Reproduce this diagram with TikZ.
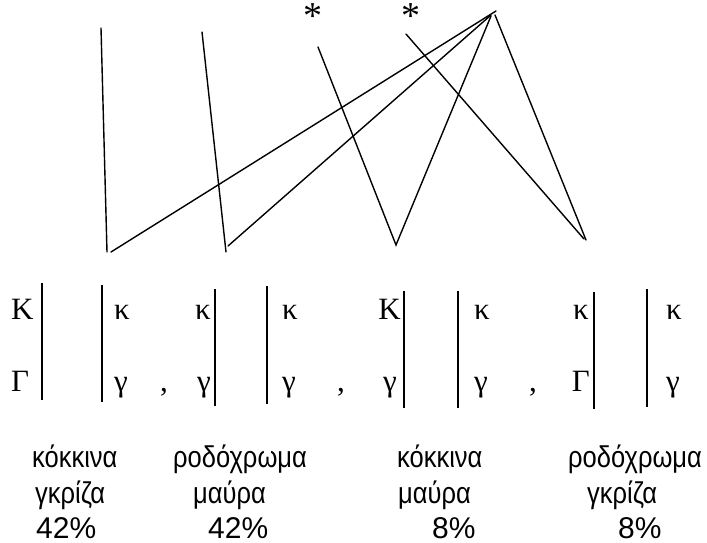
\documentclass[tikz,border=0pt]{standalone}
\usepackage{fontspec}
\usepackage{graphicx}
\setmainfont{Liberation Serif}
\newfontfamily\lsans{Liberation Sans}
\begin{document}
\begin{tikzpicture}[x=1pt,y=-1pt,
  ln/.style={line width=1.4pt,line cap=round},
  bar/.style={line width=1.9pt},
  gr/.style={inner sep=0pt,font=\fontsize{31}{34}\selectfont},
  grw/.style={gr,anchor=base west},
  gre/.style={gr,anchor=base east},
  lab/.style={inner sep=0pt,anchor=base west,font=\lsans\fontsize{30}{34}\selectfont},
  star/.style={inner sep=0pt,anchor=base,font=\fontsize{38}{40}\selectfont}]
\useasboundingbox (0,0) rectangle (707,543);
% stars
\node[star] (s1) at (313,29) {*};
\node[star] (s2) at (411,29) {*};
% line end points
\coordinate (a1) at (101,28);  \coordinate (b1) at (107,252);
\coordinate (c1) at (111,252); \coordinate (apex) at (496,11);
\coordinate (a2) at (202,32);  \coordinate (b2) at (226,252);
\coordinate (c2) at (228,246); \coordinate (apex2) at (491,15);
\coordinate (a3) at (318,47);  \coordinate (b3) at (396,245);
\coordinate (apex3) at (491,16);
\coordinate (a4) at (406,34);  \coordinate (b4) at (584,239);
\coordinate (apex4) at (495,15); \coordinate (b5) at (586,240);
\draw[ln] (a1) -- (b1);
\draw[ln] (c1) -- (apex);
\draw[ln] (a2) -- (b2);
\draw[ln] (c2) -- (apex2);
\draw[ln] (a3) -- (b3) -- (apex3);
\draw[ln] (a4) -- (b4);
\draw[ln] (apex4) -- (b5);
% vertical bars
\foreach \n/\x/\ya/\yb in {1/42/283/400, 2/102/285/402, 3/215/289/406, 4/267/286/404,
                          5/404/291/408, 6/458/291/408, 7/594/292/409, 8/647/289/407}{
  \coordinate (t\n) at (\x,\ya); \coordinate (u\n) at (\x,\yb);
  \draw[bar] (t\n) -- (u\n);
}
% letters, row 1 (baseline 319) and row 2 (baseline 391)
\node[grw] (K1) at (11,319) {Κ};
\node[grw] (G1) at (11,391) {Γ};
\node[grw] (k2) at (114,319) {κ};
\node[grw] (g2) at (114,391) {γ};
\node[grw] (cm1) at (160,391) {,};
\node[gre] (k3) at (211,319) {κ};
\node[gre] (g3) at (211,391) {γ};
\node[grw] (k4) at (282,319) {κ};
\node[grw] (g4) at (282,391) {γ};
\node[grw] (cm2) at (337,391) {,};
\node[gre] (K5) at (401,319) {Κ};
\node[gre] (g5) at (397,391) {γ};
\node[grw] (k6) at (474,319) {κ};
\node[grw] (g6) at (474,391) {γ};
\node[grw] (cm3) at (529,391) {,};
\node[gre] (k7) at (589,319) {κ};
\node[gre] (G7) at (590,391) {Γ};
\node[grw] (k8) at (666,319) {κ};
\node[grw] (g8) at (666,391) {γ};
% labels
\node[lab] (l1a) at (32,467) {\scalebox{0.85}[1]{κόκκινα}};
\node[lab] (l1b) at (35,503) {\scalebox{0.85}[1]{γκρίζα}};
\node[lab] (l1c) at (36,538) {42\%};
\node[lab] (l2a) at (173,467) {\scalebox{0.85}[1]{ροδόχρωμα}};
\node[lab] (l2b) at (193,503) {\scalebox{0.85}[1]{μαύρα}};
\node[lab] (l2c) at (208,538) {42\%};
\node[lab] (l3a) at (397,467) {\scalebox{0.85}[1]{κόκκινα}};
\node[lab] (l3b) at (398,503) {\scalebox{0.85}[1]{μαύρα}};
\node[lab] (l3c) at (432,538) {8\%};
\node[lab] (l4a) at (568,467) {\scalebox{0.85}[1]{ροδόχρωμα}};
\node[lab] (l4b) at (587,503) {\scalebox{0.85}[1]{γκρίζα}};
\node[lab] (l4c) at (618,538) {8\%};
\end{tikzpicture}
\end{document}
